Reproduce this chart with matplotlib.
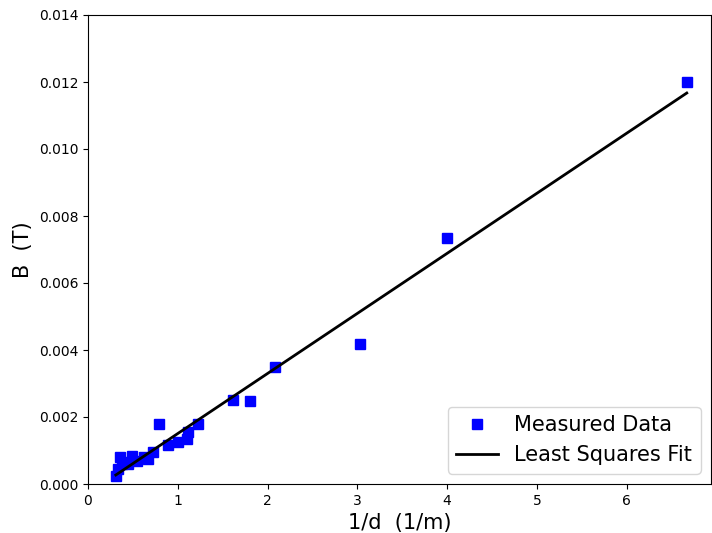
import numpy as np
import matplotlib
matplotlib.use("Agg")
import matplotlib.pyplot as plt

inv_d = [0.31, 0.33, 0.36, 0.38, 0.42, 0.45, 0.49, 0.55, 0.62, 0.67, 0.72,
         0.79, 0.89, 1.00, 1.10, 1.11, 1.23, 1.61, 1.81, 2.08, 3.03, 4.00, 6.67]
B = [0.00025, 0.00045, 0.00080, 0.00060, 0.00065, 0.00060, 0.00085, 0.00070,
     0.00080, 0.00075, 0.00095, 0.00180, 0.00115, 0.00125, 0.00135, 0.00155,
     0.00180, 0.00250, 0.00248, 0.00350, 0.00417, 0.00735, 0.01200]

x = np.array(inv_d)
y = np.array(B)
m, c = np.polyfit(x, y, 1)
xf = np.array([x.min(), x.max()])

fig = plt.figure(figsize=(7.12, 5.33), dpi=100)
ax = fig.add_axes([88/712, 1-484/533, (711-88)/712, (484-15)/533])
ax.plot(x, y, 's', color='blue', markersize=6.8, label='Measured Data')
ax.plot(xf, m*xf + c, '-', color='black', linewidth=2, label='Least Squares Fit')
ax.set_xlim(0, 6.94)
ax.set_ylim(0, 0.014)
ax.set_yticks(np.arange(0, 0.0141, 0.002))
ax.yaxis.set_major_formatter(matplotlib.ticker.FormatStrFormatter('%.3f'))
ax.set_xlabel('1/d  (1/m)', fontsize=15)
ax.set_ylabel('B  (T)', fontsize=15)
ax.legend(loc='lower right', fontsize=15)
fig.savefig('out.png', dpi=100)
